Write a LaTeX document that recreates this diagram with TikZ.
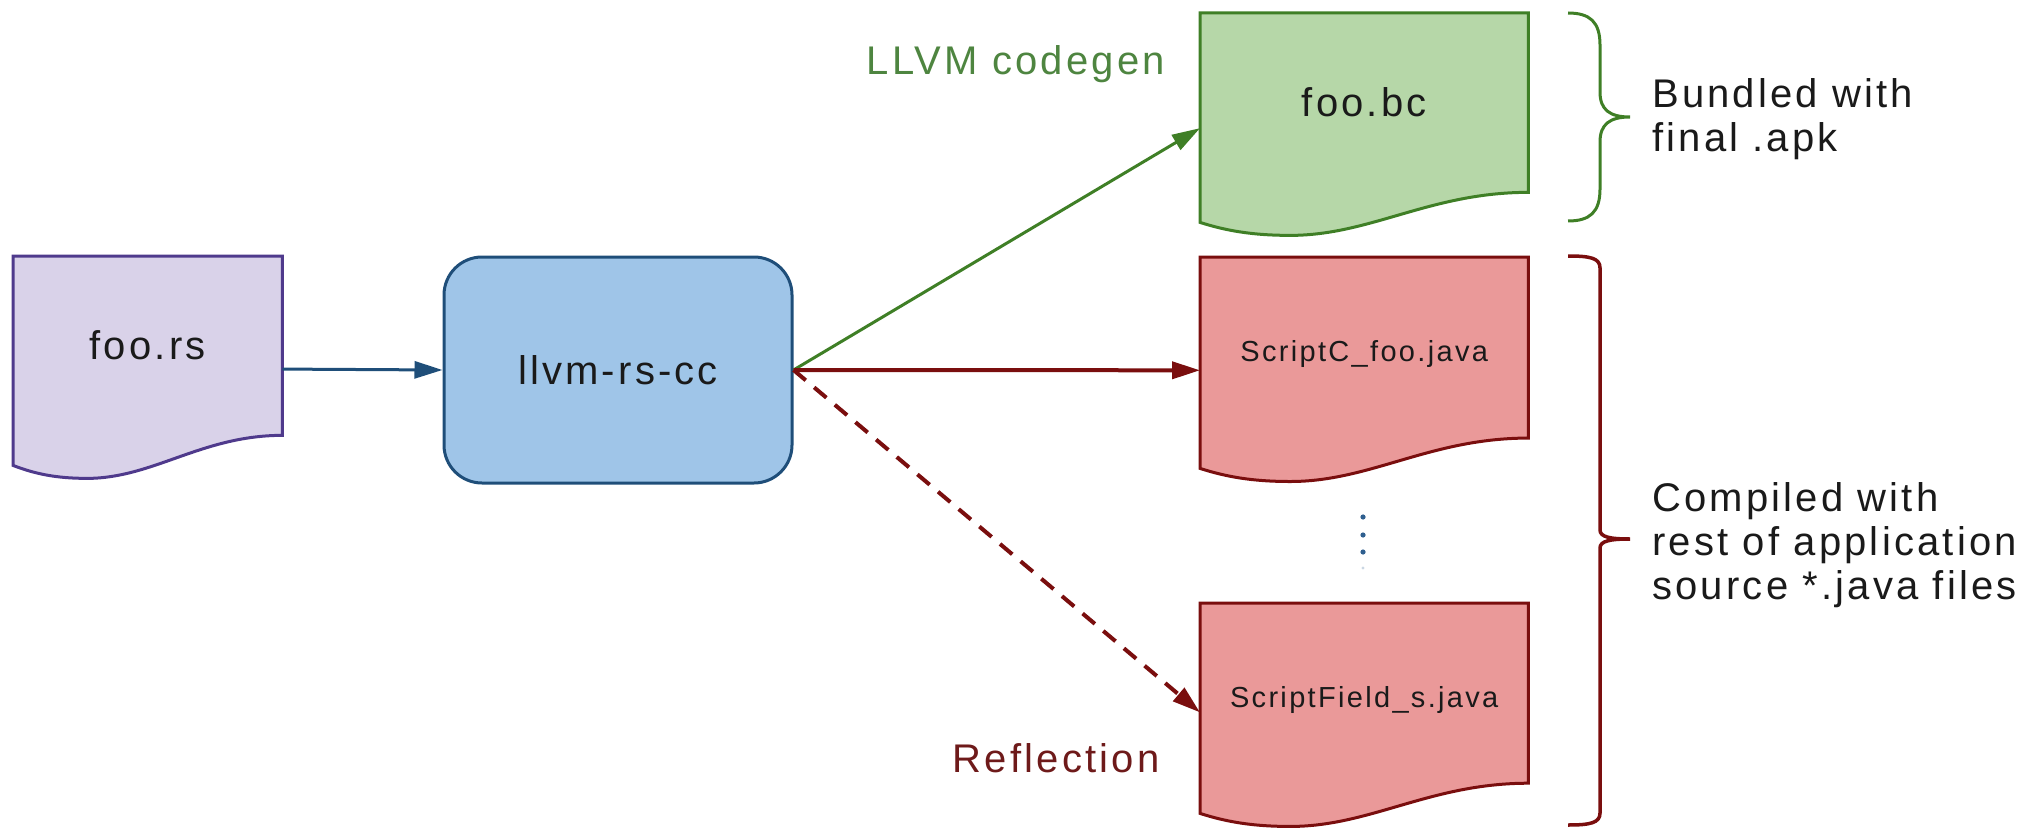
\documentclass[tikz,border=0pt]{standalone}
\usepackage{fontspec}
\setmainfont{Liberation Sans}[LetterSpace=8]
\usetikzlibrary{arrows.meta,calc,backgrounds}
\definecolor{rsfill}{HTML}{D9D2E9}
\definecolor{rsline}{HTML}{4F3A8C}
\definecolor{ccfill}{HTML}{9FC5E8}
\definecolor{ccline}{HTML}{1F4E79}
\definecolor{bcfill}{HTML}{B6D7A8}
\definecolor{bcline}{HTML}{3F7F26}
\definecolor{jfill}{HTML}{EA9999}
\definecolor{jline}{HTML}{7A0E0E}
\definecolor{gtext}{HTML}{4E8540}
\definecolor{rtext}{HTML}{6E1A1A}
\definecolor{dotblue}{HTML}{2F5F8F}
\definecolor{ink}{HTML}{1A1A1A}
\newcommand{\docoutline}[2]{%
  \path[#2] let \p1=(#1.north west), \p2=(#1.south east),
    \n1={\x2-\x1}, \n2={\y1-\y2} in
    (\x1,\y1) -- (\x2,\y1) -- (\x2,{\y2+0.1435*\n2})
    .. controls ({\x2-0.3*\n1},{\y2+0.1435*\n2}) and ({\x1+0.52*\n1},{\y2-0.062*\n2}) ..
    ({\x1+0.275*\n1},{\y2-0.062*\n2})
    .. controls ({\x1+0.16*\n1},{\y2-0.062*\n2}) and ({\x1+0.08*\n1},{\y2-0.04*\n2}) ..
    (\x1,\y2) -- cycle;}
\begin{document}
\begin{tikzpicture}[x=1pt,y=-1pt,
  lab/.style={font=\fontsize{40}{44}\selectfont, text=ink, inner sep=0pt},
  smalllab/.style={font=\fontsize{29}{32}\selectfont, text=ink, inner sep=0pt},
  docbox/.style={rectangle, inner sep=0pt, anchor=north west, minimum width=328pt},
  bigtext/.style={text height=29pt, text depth=32pt},
  smalltext/.style={text height=21pt, text depth=23pt},
  arr/.style={-{Triangle[length=28pt,width=17pt]}},
  outl/.style={line width=3pt, line join=miter}]
\useasboundingbox (0,0) rectangle (2036,829);

% nodes
\node[docbox, lab, bigtext, minimum width=269pt, minimum height=209pt] (foors) at (13,256) {foo.rs};
\node[rectangle, lab, draw=ccline, fill=ccfill, line width=3pt, rounded corners=38pt,
      minimum width=348pt, minimum height=226pt] (llvm) at (618,370) {llvm-rs-cc};
\node[docbox, lab, bigtext, minimum height=209pt] (foobc) at (1200,13) {foo.bc};
\node[docbox, smalllab, smalltext, minimum height=211pt] (scriptc) at (1200,257) {ScriptC\_foo.java};
\node[docbox, smalllab, smalltext, minimum height=210pt] (scriptf) at (1200,603) {ScriptField\_s.java};

\begin{scope}[on background layer]
  \docoutline{foors}{fill=rsfill, draw=rsline, outl}
  \docoutline{foobc}{fill=bcfill, draw=bcline, outl}
  \docoutline{scriptc}{fill=jfill, draw=jline, outl}
  \docoutline{scriptf}{fill=jfill, draw=jline, outl}
\end{scope}

% connectors
\draw[arr, ccline, line width=3pt] ($(foors.north east)!0.54!(foors.south east)$) -- (llvm.west);
\draw[arr, bcline, line width=3pt] (llvm.east) -- ($(foobc.north west)!0.55!(foobc.south west)$);
\draw[arr, jline, line width=4pt] (llvm.east) -- ($(scriptc.north west)!0.536!(scriptc.south west)$);
\draw[arr, jline, line width=4pt, dash pattern=on 16pt off 11pt] (llvm.east) -- ($(scriptf.north west)!0.52!(scriptf.south west)$);

% vertical dots
\coordinate (vdots) at (1363,535);
\fill[dotblue] ($(vdots)+(0,-18)$) circle (2.6pt);
\fill[dotblue] (vdots) circle (2.6pt);
\fill[dotblue] ($(vdots)+(0,17)$) circle (2.6pt);
\fill[dotblue!25] ($(vdots)+(0,33)$) circle (1.6pt);

% labels
\node[lab, text=gtext, anchor=base] (codegen) at (1016,75) {LLVM codegen};
\node[lab, text=rtext, anchor=base] (reflection) at (1056,772) {Reflection};

% braces
\draw[bcline, line width=3pt] (1568,13) .. controls (1590,13) and (1600,22) .. (1600,45)
  -- (1600,92) .. controls (1600,110) and (1610,117) .. (1630,117)
  .. controls (1610,117) and (1600,124) .. (1600,142)
  -- (1600,189) .. controls (1600,212) and (1590,221) .. (1568,221);
\draw[jline, line width=3.5pt] (1568,256) .. controls (1590,256) and (1600,258) .. (1600,268)
  -- (1600,530) .. controls (1600,537) and (1610,539) .. (1630,539)
  .. controls (1610,539) and (1600,541) .. (1600,548)
  -- (1600,813) .. controls (1600,823) and (1590,825) .. (1568,825);

\node[lab, anchor=west, align=left] (bundled) at (1652,119) {Bundled with\\final .apk};
\node[lab, anchor=west, align=left] (compiled) at (1652,545) {Compiled with\\rest of application\\source *.java files};
\end{tikzpicture}
\end{document}
